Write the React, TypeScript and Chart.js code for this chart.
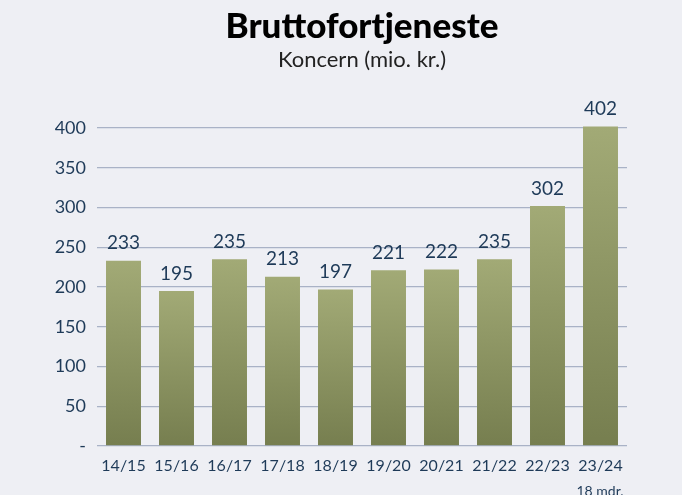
import React, { useEffect, useRef } from "react";
import { Chart, registerables } from "chart.js";

Chart.register(...registerables);

const categories = ["14/15", "15/16", "16/17", "17/18", "18/19", "19/20", "20/21", "21/22", "22/23", "23/24"];
const values = [233, 195, 235, 213, 197, 221, 222, 235, 302, 402];
const subLabels = ["", "", "", "", "", "", "", "", "", "18 mdr."];
const yTicks = [0, 50, 100, 150, 200, 250, 300, 350, 400];
const titleText = "Bruttofortjeneste";
const subtitleText = "Koncern (mio. kr.)";

const BG = "#eeeff4";
const TEXT = "#1e3a58";
const FONT = "Lato, 'Open Sans', sans-serif";

export default function App() {
  const ref = useRef<HTMLCanvasElement | null>(null);

  useEffect(() => {
    document.body.style.margin = "0";
    document.body.style.background = BG;
    const canvas = ref.current!;
    const overlay = {
      id: "overlay",
      beforeDraw(chart: any) {
        const ctx = chart.ctx;
        ctx.save();
        ctx.fillStyle = BG;
        ctx.fillRect(0, 0, chart.width, chart.height);
        ctx.restore();
      },
      afterDatasetsDraw(chart: any) {
        const ctx = chart.ctx;
        const area = chart.chartArea;
        const cx = (area.left + area.right) / 2;
        ctx.save();
        ctx.textAlign = "center";
        ctx.textBaseline = "middle";
        ctx.fillStyle = "#000000";
        ctx.font = `900 35px ${FONT}`;
        ctx.fillText(titleText, cx, 27);
        ctx.fillStyle = "#222222";
        ctx.font = `400 22px ${FONT}`;
        ctx.fillText(subtitleText, cx, 60);

        const meta = chart.getDatasetMeta(0);
        ctx.fillStyle = TEXT;
        ctx.font = `400 19px ${FONT}`;
        ctx.textBaseline = "bottom";
        meta.data.forEach((bar: any, i: number) => {
          ctx.fillText(String(values[i]), bar.x, bar.y - 8);
        });
        ctx.font = `400 14px ${FONT}`;
        ctx.textAlign = "right";
        ctx.textBaseline = "middle";
        meta.data.forEach((bar: any, i: number) => {
          if (subLabels[i]) ctx.fillText(subLabels[i], bar.x + 23, 491);
        });
        ctx.restore();
      },
    };

    const chart = new Chart(canvas, {
      type: "bar",
      data: {
        labels: categories,
        datasets: [
          {
            data: values,
            clip: false,
            backgroundColor: (c: any) => {
              const ch = c.chart;
              const area = ch.chartArea;
              const ys = ch.scales.y;
              if (!area || !ys) return "#8c9463";
              const top = ys.getPixelForValue(c.raw);
              const g = ch.ctx.createLinearGradient(0, top, 0, area.bottom);
              g.addColorStop(0, "#a2aa76");
              g.addColorStop(1, "#767e4f");
              return g;
            },
            borderWidth: 0,
            barPercentage: 0.66,
            categoryPercentage: 1,
          },
        ],
      },
      options: {
        responsive: false,
        animation: false,
        devicePixelRatio: 1,
        layout: { padding: { top: 128, right: 55, left: 0, bottom: 0 } },
        plugins: {
          legend: { display: false },
          title: { display: false },
          tooltip: { enabled: false },
        },
        scales: {
          x: {
            grid: { display: false, drawTicks: false },
            border: { display: false },
            ticks: { color: TEXT, font: { family: FONT, size: 16 }, padding: 10 },
            afterFit: (s: any) => {
              s.height = 49;
            },
          },
          y: {
            min: 0,
            max: 400,
            afterBuildTicks: (s: any) => {
              s.ticks = yTicks.map((v) => ({ value: v }));
            },
            grid: { color: "#a9b2c6", lineWidth: 1.3, drawTicks: false },
            border: { display: false },
            ticks: {
              color: TEXT,
              font: { family: FONT, size: 18 },
              padding: 11,
              callback: (v: any) => (Number(v) === 0 ? "-" : String(v)),
            },
            afterFit: (s: any) => {
              s.width = 97;
            },
          },
        },
      },
      plugins: [overlay],
    } as any);
    return () => chart.destroy();
  }, []);

  return (
    <div style={{ width: 682, height: 495 }}>
      <canvas ref={ref} width={682} height={495} style={{ display: "block" }} />
    </div>
  );
}
